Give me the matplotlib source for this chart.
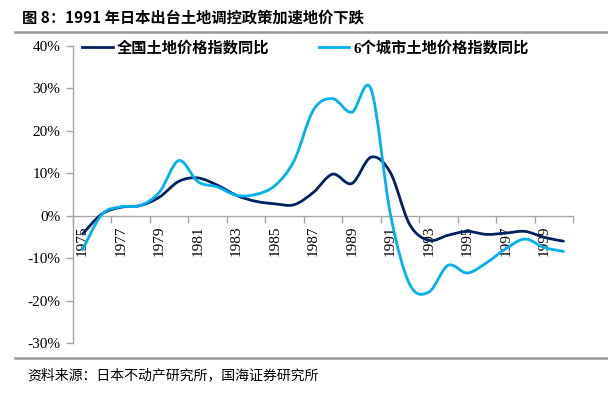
import numpy as np
import matplotlib
matplotlib.use("Agg")
import matplotlib.pyplot as plt
from matplotlib.path import Path
from matplotlib.patches import PathPatch
from matplotlib.lines import Line2D
from matplotlib.ticker import FixedLocator, FuncFormatter

plt.rcParams['font.family'] = ['Noto Sans CJK SC', 'DejaVu Sans']

years = list(range(1975, 2001))
national = [-4.3, 0.4, 2.0, 2.4, 4.4, 8.1, 8.9, 7.2, 4.8, 3.4, 2.8, 2.6, 5.5, 9.8, 7.6,
            13.8, 10.2, -2.0, -5.8, -4.6, -3.7, -4.4, -4.1, -3.7, -5.1, -6.0]
six_cities = [-8.0, 0.3, 2.1, 2.4, 5.6, 13.0, 8.0, 6.8, 4.8, 5.0, 7.1, 13.0, 24.9, 27.6, 24.4,
              29.8, 0.5, -16.1, -18.0, -11.7, -13.5, -11.1, -7.8, -5.5, -7.5, -8.4]
series_names = ['全国土地价格指数同比', '6个城市土地价格指数同比']
series_colors = ['#002060', '#00B0F0']
y_ticks = [-30, -20, -10, 0, 10, 20, 30, 40]
x_labels = list(range(1975, 2000, 2))

title = '图 8：1991 年日本出台土地调控政策加速地价下跌'
source = '资料来源：日本不动产研究所，国海证券研究所'


def smooth_path(xs, ys):
    pts = np.column_stack([xs, ys]).astype(float)
    n = len(pts)
    verts = [pts[0]]
    codes = [Path.MOVETO]
    for i in range(n - 1):
        p0 = pts[i - 1] if i > 0 else pts[i]
        p1 = pts[i]
        p2 = pts[i + 1]
        p3 = pts[i + 2] if i + 2 < n else pts[i + 1]
        c1 = p1 + (p2 - p0) / 6.0
        c2 = p2 - (p3 - p1) / 6.0
        verts += [c1, c2, p2]
        codes += [Path.CURVE4] * 3
    return Path(verts, codes)


fig = plt.figure(figsize=(6.08, 3.94), dpi=100)
ax = fig.add_axes([73 / 608, 1 - 343 / 394, 500 / 608, (343 - 46) / 394])

for vals, col in zip([national, six_cities], series_colors):
    patch = PathPatch(smooth_path(years, vals), facecolor='none', edgecolor=col,
                      lw=2.0, capstyle='round', joinstyle='round', zorder=3)
    ax.add_patch(patch)

ax.set_xlim(1974.5, 2000.5)
ax.set_ylim(-30, 40)

gray = '#A6A6A6'
for s in ['top', 'right']:
    ax.spines[s].set_visible(False)
ax.spines['bottom'].set_position(('data', 0))
ax.spines['bottom'].set_color(gray)
ax.spines['left'].set_color(gray)
ax.spines['bottom'].set_linewidth(1.0)
ax.spines['left'].set_linewidth(1.0)

ax.yaxis.set_major_locator(FixedLocator(y_ticks))
ax.yaxis.set_major_formatter(FuncFormatter(lambda v, p: f'{int(v)}%'))
ax.tick_params(axis='y', direction='out', length=5, color=gray, width=1.0, pad=4)
for lab in ax.get_yticklabels():
    lab.set_fontfamily('Liberation Serif')
    lab.set_fontsize(11)

ax.xaxis.set_major_locator(FixedLocator(x_labels))
ax.xaxis.set_major_formatter(FuncFormatter(lambda v, p: f'{int(round(v))}'))
ax.xaxis.set_minor_locator(FixedLocator(np.arange(1974.5, 2001, 2)))
ax.tick_params(axis='x', which='major', length=0, pad=7)
ax.tick_params(axis='x', which='minor', direction='out', length=5, color=gray, width=1.0)
for lab in ax.get_xticklabels():
    lab.set_fontfamily('Liberation Serif')
    lab.set_fontsize(11)
    lab.set_rotation(90)
    lab.set_va('top')

handles = [Line2D([], [], color=c, lw=2.0) for c in series_colors]
leg = ax.legend(handles, series_names, loc='center left',
                bbox_to_anchor=((82 - 73) / 500, (343 - 48) / 297),
                ncol=2, frameon=False, handlelength=2.0, handletextpad=0.3,
                borderpad=0, borderaxespad=0,
                columnspacing=3.2, prop={'family': ['Liberation Serif', 'Noto Sans CJK SC'],
                                         'weight': 'bold', 'size': 11})

fig.text(22 / 608, 1 - 17 / 394, title, fontsize=11, fontweight='bold',
         va='center', ha='left', family=['Noto Sans CJK SC', 'DejaVu Sans'])
fig.add_artist(Line2D([15 / 608, 1.0], [1 - 32 / 394, 1 - 32 / 394], color='#999999', lw=1.8))
fig.add_artist(Line2D([15 / 608, 1.0], [1 - 358 / 394, 1 - 358 / 394], color='#999999', lw=1.8))
fig.text(27 / 608, 1 - 375 / 394, source, fontsize=10, va='center', ha='left',
         family=['Noto Sans CJK SC', 'DejaVu Sans'], fontweight='light')

fig.savefig('out.png', dpi=100)
